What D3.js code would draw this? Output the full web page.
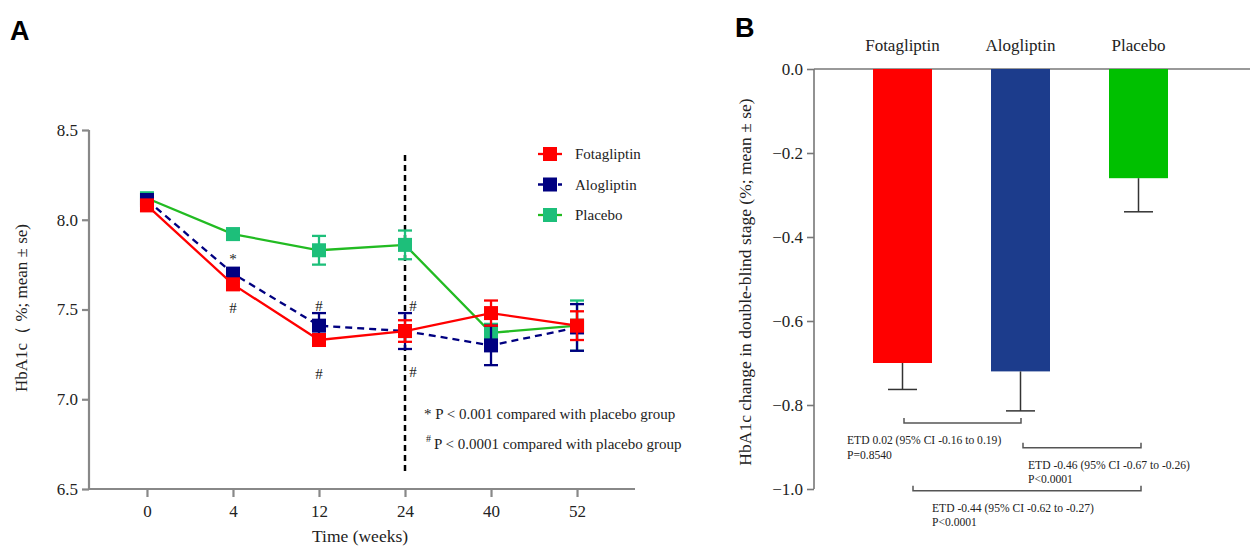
<!DOCTYPE html>
<html>
<head>
<meta charset="utf-8">
<script src="https://cdn.jsdelivr.net/npm/d3@7"></script>
<style>
  html, body { margin: 0; padding: 0; background: #fff; }
  svg { display: block; }
  text { font-family: "Liberation Serif", "Times New Roman", serif; fill: #222; }
  .letter { font-family: "Liberation Sans", Arial, sans-serif; font-weight: bold; font-size: 27px; fill: #000; }
</style>
</head>
<body>
<div id="chart"></div>
<script>
// panel A data
var weeks = ["0", "4", "12", "24", "40", "52"];
var fotaMean = [8.08, 7.64, 7.33, 7.38, 7.48, 7.41];
var fotaSe = [0.02, 0.03, 0.03, 0.06, 0.07, 0.08];
var aloMean = [8.11, 7.70, 7.41, 7.38, 7.30, 7.40];
var aloSe = [0.02, 0.03, 0.07, 0.10, 0.11, 0.13];
var plaMean = [8.12, 7.92, 7.83, 7.86, 7.37, 7.41];
var plaSe = [0.02, 0.03, 0.08, 0.08, 0.05, 0.14];
var yTicksA = [6.5, 7.0, 7.5, 8.0, 8.5];
// significance marks: week, value position, symbol
var marks = [
  {week: "4", v: 7.78, s: "*"},
  {week: "4", v: 7.51, s: "#"},
  {week: "12", v: 7.52, s: "#"},
  {week: "12", v: 7.14, s: "#"},
  {week: "24", v: 7.52, s: "#", dx: 8},
  {week: "24", v: 7.15, s: "#", dx: 8}
];

// panel B data
var groups = ["Fotagliptin", "Alogliptin", "Placebo"];
var change = [-0.70, -0.72, -0.26];
var changeSe = [0.063, 0.094, 0.08];
var yTicksB = [0.0, -0.2, -0.4, -0.6, -0.8, -1.0];
var etd = [
  {from: "Fotagliptin", to: "Alogliptin", y: -0.843, line1: "ETD 0.02 (95% CI -0.16 to 0.19)", line2: "P=0.8540"},
  {from: "Alogliptin", to: "Placebo", y: -0.902, line1: "ETD -0.46 (95% CI -0.67 to -0.26)", line2: "P<0.0001"},
  {from: "Fotagliptin", to: "Placebo", y: -1.004, line1: "ETD -0.44 (95% CI -0.62 to -0.27)", line2: "P<0.0001"}
];

var width = 1250, height = 549;
var svg = d3.select("#chart").append("svg")
    .attr("width", width)
    .attr("height", height);

var axisCol = "#888";

// ---------- panel A ----------
var series = [
  {name: "Placebo", mean: plaMean, se: plaSe, line: "#22bb22", marker: "#1dbf7a", dash: null},
  {name: "Alogliptin", mean: aloMean, se: aloSe, line: "#000080", marker: "#000080", dash: "7,5"},
  {name: "Fotagliptin", mean: fotaMean, se: fotaSe, line: "#ff0000", marker: "#ff0000", dash: null}
];

var x = d3.scalePoint().domain(weeks).range([89, 635]).padding(0.674);
var y = d3.scaleLinear().domain([6.5, 8.5]).range([489, 130]);

svg.append("text").attr("class", "letter").attr("x", 10).attr("y", 40).text("A");

var gx = svg.append("g").attr("transform", "translate(0,489)")
    .call(d3.axisBottom(x).tickSize(8).tickPadding(8));
var gy = svg.append("g").attr("transform", "translate(89,0)")
    .call(d3.axisLeft(y).tickValues(yTicksA).tickFormat(d3.format(".1f")).tickSize(7).tickPadding(4));
[gx, gy].forEach(function(g) {
  g.select(".domain").attr("stroke", axisCol).attr("stroke-width", 2.2);
  g.selectAll(".tick line").attr("stroke", axisCol).attr("stroke-width", 2.2);
  g.selectAll(".tick text").style("font-family", "Liberation Serif").style("font-size", "17px").attr("fill", "#222");
});
gx.select(".domain").attr("d", "M89,0H635");
gy.select(".domain").attr("d", "M0,130V489");

svg.append("text").attr("x", 360).attr("y", 542).attr("text-anchor", "middle")
    .style("font-size", "17.5px").text("Time (weeks)");
svg.append("text").attr("transform", "translate(27,308) rotate(-90)").attr("text-anchor", "middle")
    .style("font-size", "17px").text("HbA1c（ %; mean ± se)");

// dashed vertical at week 24
svg.append("line")
    .attr("x1", x("24")).attr("x2", x("24"))
    .attr("y1", 155).attr("y2", 472)
    .attr("stroke", "#000").attr("stroke-width", 2.5).attr("stroke-dasharray", "6,4");

var line = d3.line().x(function(d, i) { return x(weeks[i]); }).y(function(d) { return y(d); });
var sq = 14, cap = 7;

series.forEach(function(s) {
  var g = svg.append("g");
  g.append("path").attr("d", line(s.mean)).attr("fill", "none")
      .attr("stroke", s.line).attr("stroke-width", 2.3)
      .attr("stroke-dasharray", s.dash);
  var pts = g.selectAll(".pt").data(s.mean).enter().append("g");
  pts.append("line")
      .attr("x1", function(d, i) { return x(weeks[i]); })
      .attr("x2", function(d, i) { return x(weeks[i]); })
      .attr("y1", function(d, i) { return y(d + s.se[i]); })
      .attr("y2", function(d, i) { return y(d - s.se[i]); })
      .attr("stroke", s.marker).attr("stroke-width", 2.3);
  [1, -1].forEach(function(k) {
    pts.append("line")
        .attr("x1", function(d, i) { return x(weeks[i]) - cap; })
        .attr("x2", function(d, i) { return x(weeks[i]) + cap; })
        .attr("y1", function(d, i) { return y(d + k * s.se[i]); })
        .attr("y2", function(d, i) { return y(d + k * s.se[i]); })
        .attr("stroke", s.marker).attr("stroke-width", 2.3);
  });
  pts.append("rect")
      .attr("x", function(d, i) { return x(weeks[i]) - sq / 2; })
      .attr("y", function(d) { return y(d) - sq / 2; })
      .attr("width", sq).attr("height", sq)
      .attr("fill", s.marker);
});

svg.selectAll(".sig").data(marks).enter().append("text")
    .attr("x", function(d) { return x(d.week) + (d.dx || 0); })
    .attr("y", function(d) { return y(d.v) + 5; })
    .attr("text-anchor", "middle")
    .style("font-size", "15px").attr("fill", "#444")
    .text(function(d) { return d.s; });

// legend
var legOrder = [series[2], series[1], series[0]];
var leg = svg.selectAll(".leg").data(legOrder).enter().append("g")
    .attr("transform", function(d, i) { return "translate(550," + (154 + i * 30.5) + ")"; });
leg.append("line").attr("x1", -12).attr("x2", 12).attr("y1", 0).attr("y2", 0)
    .attr("stroke", function(d) { return d.line; }).attr("stroke-width", 2.3)
    .attr("stroke-dasharray", function(d) { return d.dash ? "5,5" : null; });
leg.append("rect").attr("x", -7).attr("y", -7).attr("width", 14).attr("height", 14)
    .attr("fill", function(d) { return d.marker; });
leg.append("text").attr("x", 25).attr("y", 5).style("font-size", "15px")
    .text(function(d) { return d.name; });

// footnotes
svg.append("text").attr("x", 424).attr("y", 419).style("font-size", "15px")
    .text("* P < 0.001 compared with placebo group");
var fn = svg.append("text").attr("x", 426).attr("y", 449).style("font-size", "15px");
fn.append("tspan").attr("dy", -7).style("font-size", "10px").text("#");
fn.append("tspan").attr("dy", 7).attr("dx", 3).text("P < 0.0001 compared with placebo group");

// ---------- panel B ----------
var xb = d3.scaleBand().domain(groups).range([843.5, 1197.5]).paddingInner(0.5).paddingOuter(0.25);
var yb = d3.scaleLinear().domain([-1.0, 0]).range([489, 69]);
var barCols = ["#ff0000", "#1c3c8c", "#00c000"];

svg.append("text").attr("class", "letter").attr("x", 735).attr("y", 37).text("B");

var gyb = svg.append("g").attr("transform", "translate(814,0)")
    .call(d3.axisLeft(yb).tickValues(yTicksB).tickFormat(d3.format(".1f")).tickSize(7).tickPadding(4));
gyb.select(".domain").attr("stroke", "#777").attr("stroke-width", 1.6).attr("d", "M0,69V489");
gyb.selectAll(".tick line").attr("stroke", "#777").attr("stroke-width", 1.6);
gyb.selectAll(".tick text").style("font-family", "Liberation Serif").style("font-size", "17px").attr("fill", "#222");

svg.append("line").attr("x1", 814).attr("x2", 1250).attr("y1", yb(0)).attr("y2", yb(0))
    .attr("stroke", "#777").attr("stroke-width", 1.6);

svg.append("text").attr("transform", "translate(751,282) rotate(-90)").attr("text-anchor", "middle")
    .style("font-size", "17.5px").text("HbA1c change in double-blind stage  (%; mean ± se)");

svg.selectAll(".bar").data(groups).enter().append("rect")
    .attr("x", function(d) { return xb(d); })
    .attr("y", yb(0))
    .attr("width", xb.bandwidth())
    .attr("height", function(d, i) { return yb(change[i]) - yb(0); })
    .attr("fill", function(d, i) { return barCols[i]; });

var eb = svg.selectAll(".eb").data(groups).enter().append("g");
eb.append("line")
    .attr("x1", function(d) { return xb(d) + xb.bandwidth() / 2; })
    .attr("x2", function(d) { return xb(d) + xb.bandwidth() / 2; })
    .attr("y1", function(d, i) { return yb(change[i]); })
    .attr("y2", function(d, i) { return yb(change[i] - changeSe[i]); })
    .attr("stroke", "#333").attr("stroke-width", 1.5);
eb.append("line")
    .attr("x1", function(d) { return xb(d) + xb.bandwidth() / 2 - 14.5; })
    .attr("x2", function(d) { return xb(d) + xb.bandwidth() / 2 + 14.5; })
    .attr("y1", function(d, i) { return yb(change[i] - changeSe[i]); })
    .attr("y2", function(d, i) { return yb(change[i] - changeSe[i]); })
    .attr("stroke", "#333").attr("stroke-width", 1.5);

svg.selectAll(".grp").data(groups).enter().append("text")
    .attr("x", function(d) { return xb(d) + xb.bandwidth() / 2; })
    .attr("y", 51)
    .attr("text-anchor", "middle").style("font-size", "17px")
    .text(function(d) { return d; });

// ETD brackets (offsets for the end points / text as drawn in the figure)
var brOff = [{a: 1.5, b: 0.5, tx: -57}, {a: 2.5, b: 2.5, tx: 5}, {a: 10.5, b: 2.5, tx: 19}];
etd.forEach(function(d, i) {
  var x1 = xb(d.from) + xb.bandwidth() / 2 + brOff[i].a;
  var x2 = xb(d.to) + xb.bandwidth() / 2 + brOff[i].b;
  var yy = yb(d.y);
  svg.append("path")
      .attr("d", "M" + x1 + "," + (yy - 5) + "V" + yy + "H" + x2 + "V" + (yy - 5))
      .attr("fill", "none").attr("stroke", "#555").attr("stroke-width", 1.5);
  var t = svg.append("text").attr("x", x1 + brOff[i].tx).attr("y", yy + 21)
      .style("font-size", "11.6px").attr("fill", "#333");
  t.append("tspan").text(d.line1);
  t.append("tspan").attr("x", x1 + brOff[i].tx).attr("dy", 14.5).text(d.line2);
});
</script>
</body>
</html>
